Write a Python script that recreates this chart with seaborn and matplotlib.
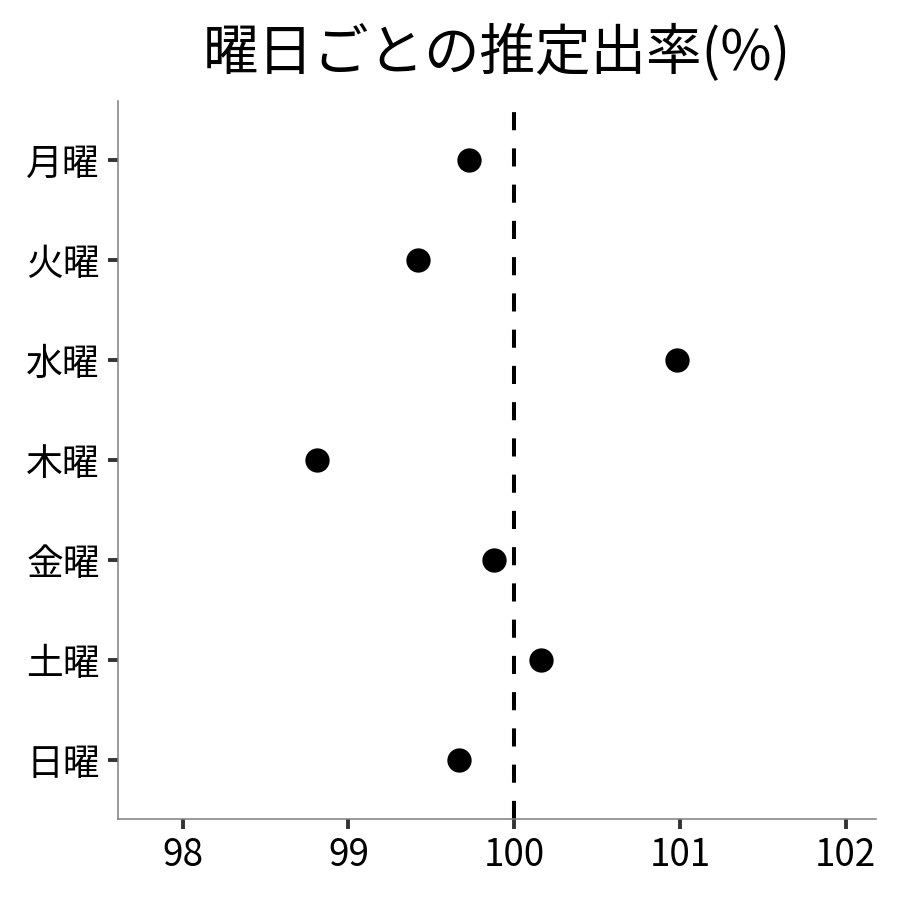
import matplotlib
matplotlib.use("Agg")
import matplotlib.pyplot as plt
import seaborn as sns
import pandas as pd

# 曜日ごとの推定出率
days = ["月曜", "火曜", "水曜", "木曜", "金曜", "土曜", "日曜"]
rates = [99.73, 99.42, 100.98, 98.81, 99.88, 100.16, 99.67]
xticks = [98, 99, 100, 101, 102]

df = pd.DataFrame({"day": days, "rate": rates})

sns.set_theme(style="white")
plt.rcParams['font.family'] = ['Noto Sans CJK JP', 'DejaVu Sans']

fig = plt.figure(figsize=(9, 9), dpi=100)
ax = fig.add_axes([0.131, 0.09, 0.842, 0.798])

sns.stripplot(data=df, x="rate", y="day", order=days, jitter=False,
              color="black", size=17.5, ax=ax, zorder=3)

# 基準線 100%
ax.axvline(100, color="black", linestyle=(0, (4.5, 4.5)), linewidth=2.9, zorder=2)

ax.set_xlim(97.61, 102.18)
ax.set_ylim(6.59, -0.59)
ax.set_xticks(xticks)
ax.set_xticklabels([str(t) for t in xticks])
ax.set_xlabel("")
ax.set_ylabel("")

for s in ["top", "right"]:
    ax.spines[s].set_visible(False)
for s in ["left", "bottom"]:
    ax.spines[s].set_color("#7f7f7f")
    ax.spines[s].set_linewidth(1.1)

ax.tick_params(axis="both", which="major", bottom=True, left=True,
               length=7, width=2.8, color="#333333",
               labelsize=26.5, labelcolor="black", direction="out")
ax.tick_params(axis="y", pad=6)
ax.tick_params(axis="x", pad=5)

ax.set_title("曜日ごとの推定出率(%)", fontsize=40, pad=22, color="black")

fig.savefig("out.png", dpi=100)
